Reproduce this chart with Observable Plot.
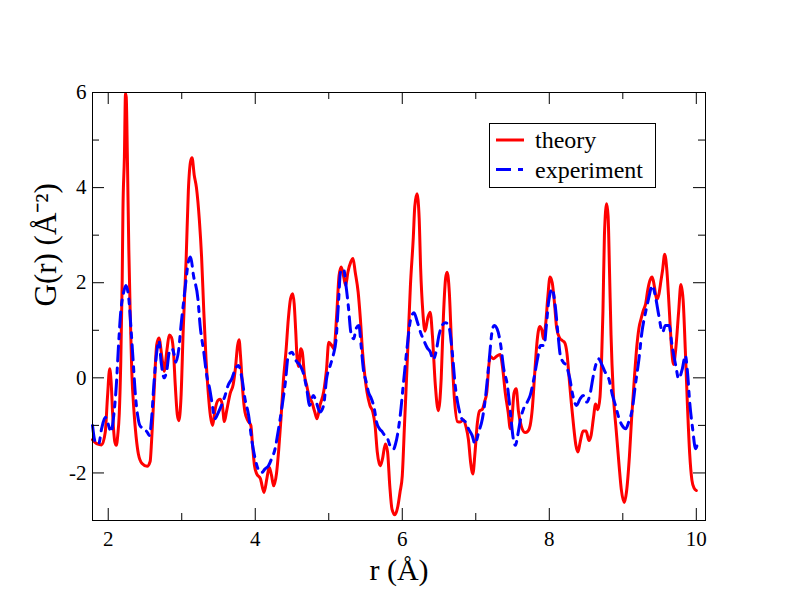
<!DOCTYPE html>
<html>
<head>
<meta charset="utf-8">
<script src="https://cdn.jsdelivr.net/npm/d3@7"></script>
<script src="https://cdn.jsdelivr.net/npm/@observablehq/plot@0.6"></script>
<style>
  html, body { margin: 0; padding: 0; background: #fff; }
  #wrap { position: relative; width: 792px; height: 612px; font-family: "Liberation Serif", "Times New Roman", serif; }
  #wrap svg text { font-family: "Liberation Serif", "Times New Roman", serif; }
  #legend { position: absolute; left: 489px; top: 123px; width: 167px; height: 65px; background: #fff; }
</style>
</head>
<body>
<div id="wrap"></div>
<script>
// ---- data ----
const seriesNames = ["theory", "experiment"];
const seriesColors = ["#ff0000", "#0000ff"];
const xMajorTicks = [2, 4, 6, 8, 10];
const xMinorTicks = [3, 5, 7, 9];
const yMajorTicks = [-2, 0, 2, 4, 6];
const yMinorTicks = [-1, 1, 3, 5];
const xDomain = [1.786, 10.125];
const yDomain = [-3, 6];

const theory = [
[1.786,-1.30],[1.85,-1.39],[1.91,-1.41],[1.96,-1.14],[1.99,-0.40],[2.02,0.19],[2.04,-0.10],[2.06,-0.76],[2.09,-1.35],[2.11,-1.42],[2.13,-1.20],[2.15,-0.76],[2.17,0.29],[2.19,2.05],[2.20,3.50],[2.22,4.65],[2.235,5.98],[2.245,5.90],[2.26,4.70],[2.28,2.70],[2.30,1.30],[2.32,0.15],[2.35,-0.70],[2.38,-1.25],[2.41,-1.60],[2.46,-1.80],[2.53,-1.86],[2.57,-1.76],[2.59,-1.32],[2.62,-0.41],[2.66,0.70],[2.69,0.84],[2.73,0.44],[2.76,0.14],[2.80,0.60],[2.83,0.90],[2.86,0.85],[2.89,0.50],[2.91,-0.10],[2.94,-0.78],[2.96,-0.90],[2.99,-0.41],[3.02,1.0],[3.06,2.50],[3.09,3.94],[3.12,4.55],[3.14,4.63],[3.17,4.26],[3.20,4.00],[3.24,3.31],[3.27,2.54],[3.30,1.40],[3.33,0.40],[3.36,-0.30],[3.39,-0.80],[3.42,-1.00],[3.45,-0.70],[3.49,-0.48],[3.52,-0.45],[3.55,-0.55],[3.58,-0.92],[3.61,-0.70],[3.66,-0.32],[3.70,-0.14],[3.73,0.20],[3.76,0.68],[3.78,0.80],[3.80,0.45],[3.83,-0.28],[3.86,-0.72],[3.90,-0.90],[3.94,-1.0],[3.96,-1.35],[3.99,-1.85],[4.02,-2.02],[4.07,-2.12],[4.12,-2.41],[4.16,-2.10],[4.19,-1.88],[4.22,-2.04],[4.25,-2.27],[4.29,-2.0],[4.32,-1.50],[4.35,-0.86],[4.38,-0.12],[4.42,0.60],[4.45,1.24],[4.48,1.66],[4.51,1.77],[4.53,1.55],[4.55,1.0],[4.57,0.40],[4.59,0.24],[4.62,0.61],[4.64,0.54],[4.67,0.05],[4.70,-0.16],[4.73,-0.37],[4.77,-0.51],[4.81,-0.72],[4.84,-0.86],[4.88,-0.58],[4.93,-0.30],[4.97,0.19],[5.0,0.75],[5.04,0.68],[5.07,0.61],[5.11,1.38],[5.14,2.15],[5.17,2.33],[5.20,2.15],[5.23,1.94],[5.26,2.22],[5.30,2.44],[5.33,2.51],[5.36,2.22],[5.40,1.80],[5.43,1.24],[5.46,0.54],[5.49,0.05],[5.52,-0.30],[5.56,-0.58],[5.60,-0.72],[5.63,-1.0],[5.66,-1.56],[5.70,-1.85],[5.73,-1.71],[5.77,-1.39],[5.80,-1.56],[5.83,-2.27],[5.86,-2.76],[5.90,-2.88],[5.94,-2.70],[5.97,-2.40],[6.0,-2.06],[6.03,-1.0],[6.05,-0.3],[6.08,0.80],[6.11,1.91],[6.15,2.95],[6.17,3.60],[6.20,3.87],[6.23,3.35],[6.25,2.30],[6.28,1.38],[6.31,0.98],[6.35,1.28],[6.38,1.38],[6.41,0.89],[6.45,-0.16],[6.49,-0.69],[6.53,0.0],[6.56,1.30],[6.59,2.10],[6.61,2.22],[6.64,1.80],[6.67,0.70],[6.71,-0.45],[6.75,-0.92],[6.79,-0.93],[6.83,-0.88],[6.87,-1.05],[6.90,-1.30],[6.93,-1.78],[6.96,-2.02],[6.99,-1.56],[7.02,-0.97],[7.05,-0.70],[7.09,-0.66],[7.12,-0.50],[7.15,-0.30],[7.18,0.30],[7.20,0.45],[7.24,0.40],[7.28,0.45],[7.33,0.49],[7.37,0.15],[7.40,-0.30],[7.44,-0.72],[7.47,-1.07],[7.49,-0.90],[7.52,-0.32],[7.55,-0.23],[7.58,-0.70],[7.62,-1.02],[7.67,-1.15],[7.71,-1.12],[7.74,-1.00],[7.77,-0.63],[7.80,0.05],[7.83,0.70],[7.87,1.08],[7.90,1.00],[7.92,0.82],[7.95,1.12],[7.98,1.70],[8.01,2.12],[8.04,2.00],[8.07,1.58],[8.10,1.05],[8.14,0.84],[8.18,0.78],[8.21,0.74],[8.24,0.52],[8.27,0.0],[8.30,-0.53],[8.33,-1.0],[8.36,-1.40],[8.39,-1.56],[8.42,-1.35],[8.46,-1.12],[8.50,-1.12],[8.54,-1.32],[8.57,-1.20],[8.60,-0.85],[8.63,-0.55],[8.66,-0.67],[8.69,-0.40],[8.71,0.30],[8.73,1.40],[8.75,3.0],[8.78,3.66],[8.80,3.40],[8.82,2.20],[8.84,0.90],[8.87,-0.30],[8.91,-1.10],[8.95,-1.85],[8.98,-2.35],[9.02,-2.62],[9.05,-2.40],[9.09,-1.65],[9.12,-0.85],[9.16,0.05],[9.19,0.65],[9.22,1.05],[9.25,1.25],[9.28,1.42],[9.31,1.55],[9.34,1.85],[9.37,2.05],[9.40,2.12],[9.43,1.92],[9.46,1.65],[9.49,1.75],[9.52,2.05],[9.54,2.25],[9.57,2.60],[9.60,2.25],[9.63,1.50],[9.66,0.70],[9.69,0.28],[9.72,0.60],[9.76,1.40],[9.79,1.96],[9.82,1.65],[9.85,0.60],[9.88,-0.60],[9.91,-1.60],[9.94,-2.15],[9.97,-2.32],[10.0,-2.37]
];

const experiment = [
[1.786,-1.00],[1.82,-1.33],[1.87,-1.39],[1.91,-1.07],[1.96,-0.83],[1.99,-0.93],[2.04,-1.14],[2.07,-0.86],[2.11,-0.16],[2.14,0.68],[2.17,1.38],[2.21,1.80],[2.24,1.94],[2.28,1.66],[2.31,1.03],[2.34,0.33],[2.37,-0.37],[2.40,-0.79],[2.43,-1.0],[2.48,-1.07],[2.53,-1.14],[2.56,-1.21],[2.59,-0.86],[2.62,-0.16],[2.66,0.54],[2.69,0.78],[2.72,0.33],[2.76,0.0],[2.80,0.19],[2.83,0.54],[2.87,0.61],[2.90,0.47],[2.92,0.33],[2.96,0.61],[2.99,1.10],[3.02,1.52],[3.06,2.08],[3.09,2.44],[3.12,2.54],[3.16,2.15],[3.22,1.66],[3.25,1.10],[3.30,0.54],[3.34,0.05],[3.38,-0.23],[3.41,-0.51],[3.45,-0.86],[3.50,-0.72],[3.54,-0.58],[3.59,-0.37],[3.63,-0.16],[3.68,-0.02],[3.73,0.19],[3.77,0.26],[3.82,-0.02],[3.86,-0.44],[3.91,-0.79],[3.95,-1.28],[4.0,-1.71],[4.04,-1.92],[4.09,-1.99],[4.13,-1.92],[4.18,-1.85],[4.22,-1.71],[4.27,-1.49],[4.31,-1.14],[4.36,-0.65],[4.41,-0.09],[4.45,0.47],[4.50,0.54],[4.54,0.40],[4.57,0.33],[4.61,0.26],[4.65,0.12],[4.70,-0.23],[4.74,-0.58],[4.79,-0.37],[4.83,-0.51],[4.88,-0.72],[4.93,-0.58],[4.97,-0.02],[5.02,0.26],[5.06,0.47],[5.10,0.82],[5.13,1.52],[5.16,2.22],[5.20,2.29],[5.24,1.87],[5.27,1.45],[5.30,0.96],[5.34,0.82],[5.37,1.03],[5.41,1.10],[5.44,0.68],[5.47,0.19],[5.51,-0.09],[5.54,-0.30],[5.58,-0.44],[5.62,-0.65],[5.65,-0.93],[5.69,-1.07],[5.73,-1.14],[5.76,-1.21],[5.80,-1.28],[5.84,-1.45],[5.88,-1.50],[5.91,-1.38],[5.97,-0.82],[6.02,-0.05],[6.07,0.70],[6.11,1.20],[6.16,1.37],[6.20,1.20],[6.25,0.95],[6.29,0.80],[6.34,0.63],[6.38,0.55],[6.42,0.38],[6.46,0.55],[6.50,0.90],[6.55,1.12],[6.59,1.16],[6.63,1.10],[6.68,0.54],[6.72,-0.16],[6.77,-0.65],[6.81,-0.86],[6.86,-0.93],[6.90,-1.07],[6.95,-1.21],[6.99,-1.39],[7.04,-1.14],[7.09,-0.86],[7.13,-0.44],[7.18,0.33],[7.22,0.96],[7.25,1.10],[7.29,1.03],[7.34,0.68],[7.38,0.19],[7.43,-0.16],[7.47,-0.72],[7.51,-1.28],[7.54,-1.42],[7.57,-1.21],[7.61,-0.86],[7.65,-0.65],[7.70,-0.51],[7.74,-0.37],[7.79,-0.02],[7.84,0.40],[7.88,0.68],[7.93,0.68],[7.96,1.10],[7.99,1.59],[8.04,1.87],[8.08,1.52],[8.12,0.89],[8.15,0.47],[8.19,0.33],[8.23,0.26],[8.28,-0.02],[8.32,-0.37],[8.37,-0.58],[8.42,-0.44],[8.46,-0.37],[8.51,-0.51],[8.55,-0.37],[8.60,0.05],[8.63,0.26],[8.67,0.40],[8.72,0.26],[8.76,0.12],[8.81,-0.02],[8.86,-0.37],[8.90,-0.58],[8.95,-0.86],[8.99,-1.0],[9.04,-1.07],[9.08,-0.93],[9.13,-0.65],[9.17,-0.16],[9.22,0.40],[9.26,0.96],[9.31,1.38],[9.35,1.66],[9.40,1.94],[9.45,1.66],[9.49,1.31],[9.54,0.96],[9.58,1.10],[9.63,1.10],[9.67,0.68],[9.72,0.26],[9.76,-0.02],[9.81,0.19],[9.85,0.47],[9.88,0.12],[9.91,-0.51],[9.95,-1.07],[9.99,-1.49],[10.01,-1.42]
];

// ---- layout ----
const W = 792, H = 612;
const mL = 92, mR = 87, mT = 92, mB = 92;
const innerW = W - mL - mR, innerH = H - mT - mB;
const font = "'Liberation Serif', 'Times New Roman', serif";
const majorLen = 12, minorLen = 7;

const toRows = (arr) => arr.map(([r, g]) => ({r, g}));

const chart = Plot.plot({
  width: W,
  height: H,
  marginLeft: mL, marginRight: mR, marginTop: mT, marginBottom: mB,
  style: {fontFamily: font, background: "white", color: "black"},
  x: {domain: xDomain},
  y: {domain: yDomain},
  marks: [
    Plot.line(toRows(theory), {x: "r", y: "g", stroke: seriesColors[0], strokeWidth: 3, curve: "monotone-x", strokeLinejoin: "round"}),
    Plot.line(toRows(experiment), {x: "r", y: "g", stroke: seriesColors[1], strokeWidth: 3, curve: "monotone-x", strokeDasharray: "15,7,5,7"}),
    // inward ticks on all four sides
    Plot.tickX(xMajorTicks, {x: d => d, insetTop: innerH - majorLen, stroke: "black"}),
    Plot.tickX(xMajorTicks, {x: d => d, insetBottom: innerH - majorLen, stroke: "black"}),
    Plot.tickX(xMinorTicks, {x: d => d, insetTop: innerH - minorLen, stroke: "black"}),
    Plot.tickX(xMinorTicks, {x: d => d, insetBottom: innerH - minorLen, stroke: "black"}),
    Plot.tickY(yMajorTicks, {y: d => d, insetRight: innerW - majorLen, stroke: "black"}),
    Plot.tickY(yMajorTicks, {y: d => d, insetLeft: innerW - majorLen, stroke: "black"}),
    Plot.tickY(yMinorTicks, {y: d => d, insetRight: innerW - minorLen, stroke: "black"}),
    Plot.tickY(yMinorTicks, {y: d => d, insetLeft: innerW - minorLen, stroke: "black"}),
    Plot.frame({stroke: "black", strokeWidth: 1}),
    Plot.axisX({ticks: xMajorTicks, tickSize: 0, tickPadding: 11, fontSize: 21, label: null, tickFormat: d => String(d), fontFamily: font}),
    Plot.axisY({ticks: yMajorTicks, tickSize: 0, tickPadding: 6, fontSize: 21, label: null, tickFormat: d => String(d), fontFamily: font}),
    Plot.text(["r (Å)"], {text: d => d, frameAnchor: "bottom", dy: 59, fontSize: 30, fontFamily: font, fill: "black"}),
    Plot.text(["G(r) (Å⁻²)"], {text: d => d, frameAnchor: "left", dx: -46, rotate: -90, fontSize: 31, fontFamily: font, fill: "black"})
  ]
});

const wrap = document.getElementById("wrap");
wrap.appendChild(chart);

// legend (inside the plot area, top right)
const legend = document.createElement("div");
legend.id = "legend";
const ns = "http://www.w3.org/2000/svg";
const lsvg = document.createElementNS(ns, "svg");
lsvg.setAttribute("width", 167);
lsvg.setAttribute("height", 65);
const box = document.createElementNS(ns, "rect");
box.setAttribute("x", 0.5); box.setAttribute("y", 0.5);
box.setAttribute("width", 166); box.setAttribute("height", 64);
box.setAttribute("fill", "white"); box.setAttribute("stroke", "black");
lsvg.appendChild(box);
const dashes = [null, "15,7,5,7"];
seriesNames.forEach((name, i) => {
  const y = 17 + i * 29.5;
  const ln = document.createElementNS(ns, "line");
  ln.setAttribute("x1", 7); ln.setAttribute("x2", 35);
  ln.setAttribute("y1", y); ln.setAttribute("y2", y);
  ln.setAttribute("stroke", seriesColors[i]);
  ln.setAttribute("stroke-width", 3);
  if (dashes[i]) ln.setAttribute("stroke-dasharray", dashes[i]);
  lsvg.appendChild(ln);
  const tx = document.createElementNS(ns, "text");
  tx.setAttribute("x", 46); tx.setAttribute("y", y + 8);
  tx.setAttribute("font-family", font);
  tx.setAttribute("font-size", 24);
  tx.setAttribute("fill", "black");
  tx.textContent = name;
  lsvg.appendChild(tx);
});
legend.appendChild(lsvg);
wrap.appendChild(legend);
</script>
</body>
</html>
